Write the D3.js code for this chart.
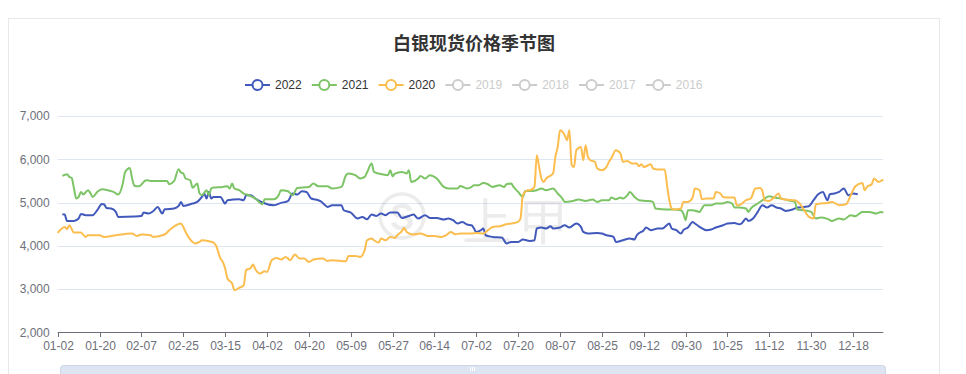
<!DOCTYPE html>
<html>
<head>
<meta charset="utf-8">
<script src="https://cdn.jsdelivr.net/npm/d3@7"></script>
<style>
  body { margin: 0; background: #fff; }
  text { font-family: "Liberation Sans", Arial, "Noto Sans CJK SC", sans-serif; }
</style>
</head>
<body>
<script>
// category axis: trading days of the year, labelled every 18th day
var dayCount = 356;
var tickLabels = ["01-02", "01-20", "02-07", "02-25", "03-15", "04-02", "04-20", "05-09", "05-27", "06-14",
    "07-02", "07-20", "08-07", "08-25", "09-12", "09-30", "10-25", "11-12", "11-30", "12-18"];
var tickStep = 18;
var yTicks = [2000, 3000, 4000, 5000, 6000, 7000];

var years = ["2022", "2021", "2020", "2019", "2018", "2017", "2016"];
var colors = ["#4159bb", "#7cc466", "#fbbd4e"];

// [day index, price]
var s2022 = [[2, 4730], [3, 4723], [4, 4575], [7, 4575], [9, 4630], [10, 4737], [12, 4707], [15, 4707], [17, 4822],
    [19, 4968], [20, 4954], [21, 4875], [23, 4861], [25, 4783], [26, 4667], [33, 4676], [36, 4690], [37, 4769],
    [39, 4746], [41, 4799], [43, 4898], [45, 4746], [46, 4845], [50, 4861], [52, 4921], [53, 5014], [54, 4921],
    [58, 4977], [60, 5014], [62, 5130], [63, 5208], [64, 5092], [65, 5245], [66, 5092], [67, 5130], [70, 5130],
    [72, 4977], [73, 5053], [78, 5076], [80, 5053], [81, 5169], [83, 5169], [85, 5092], [88, 5000], [93, 4938],
    [96, 4991], [99, 5030], [101, 5208], [103, 5185], [105, 5261], [107, 5245], [109, 5092], [111, 5069],
    [113, 5030], [115, 4938], [116, 4898], [118, 4938], [122, 4938], [123, 4822], [126, 4769], [129, 4630],
    [131, 4667], [133, 4614], [135, 4723], [137, 4690], [139, 4746], [141, 4707], [143, 4769], [146, 4769],
    [148, 4644], [151, 4690], [153, 4723], [155, 4630], [158, 4707], [160, 4644], [163, 4644], [166, 4607],
    [168, 4630], [170, 4591], [172, 4514], [174, 4552], [176, 4491], [178, 4475], [179, 4399], [180, 4320],
    [182, 4360], [183, 4399], [184, 4244], [187, 4205], [191, 4191], [193, 4052], [195, 4089], [198, 4089],
    [200, 4145], [203, 4112], [205, 4128], [206, 4399], [208, 4422], [210, 4399], [212, 4452], [213, 4399],
    [216, 4422], [218, 4475], [220, 4422], [223, 4514], [225, 4436], [226, 4320], [228, 4283], [232, 4298],
    [234, 4283], [236, 4244], [239, 4205], [240, 4089], [243, 4128], [246, 4168], [248, 4145], [249, 4244],
    [252, 4360], [253, 4422], [255, 4360], [258, 4399], [260, 4399], [263, 4514], [264, 4399], [266, 4360],
    [268, 4283], [269, 4360], [271, 4422], [273, 4552], [274, 4514], [276, 4436], [279, 4360], [281, 4376],
    [283, 4422], [286, 4475], [288, 4514], [291, 4529], [293, 4498], [294, 4514], [296, 4630], [297, 4575],
    [299, 4630], [301, 4783], [303, 4938], [305, 4884], [307, 4938], [309, 4884], [311, 4861], [313, 4806],
    [316, 4838], [318, 4884], [321, 4898], [323, 4914], [325, 5053], [327, 5192], [329, 5245], [331, 5053],
    [332, 5192], [334, 5208], [336, 5245], [338, 5323], [340, 5169], [342, 5208], [344, 5192]];

var s2021 = [[2, 5615], [4, 5654], [5, 5592], [6, 5570], [7, 5324], [8, 5092], [9, 5130], [10, 5245], [11, 5185],
    [13, 5284], [14, 5222], [15, 5130], [17, 5245], [19, 5307], [22, 5277], [24, 5245], [26, 5185], [28, 5439],
    [29, 5707], [31, 5800], [32, 5555], [33, 5384], [35, 5377], [38, 5515], [40, 5500], [47, 5500], [48, 5423],
    [50, 5492], [52, 5770], [53, 5693], [54, 5670], [55, 5555], [57, 5515], [58, 5340], [60, 5439], [61, 5208],
    [62, 5169], [64, 5284], [65, 5169], [66, 5323], [67, 5347], [71, 5361], [73, 5377], [74, 5323], [75, 5439],
    [76, 5323], [78, 5284], [80, 5208], [82, 5169], [85, 5092], [88, 4961], [89, 5076], [93, 5076], [95, 5169],
    [96, 5284], [99, 5261], [101, 5169], [103, 5338], [108, 5361], [110, 5439], [112, 5377], [116, 5377],
    [118, 5323], [122, 5361], [124, 5631], [125, 5670], [128, 5631], [130, 5555], [132, 5592], [133, 5693],
    [135, 5901], [136, 5707], [138, 5670], [140, 5647], [142, 5631], [143, 5747], [144, 5608], [145, 5670],
    [148, 5707], [150, 5670], [151, 5747], [152, 5476], [155, 5555], [156, 5615], [158, 5555], [160, 5631],
    [163, 5555], [166, 5361], [168, 5323], [172, 5323], [173, 5384], [176, 5323], [178, 5361], [179, 5400],
    [181, 5400], [183, 5454], [185, 5423], [187, 5361], [190, 5400], [192, 5361], [193, 5423], [195, 5439],
    [196, 5361], [198, 5245], [200, 5130], [201, 5268], [204, 5268], [206, 5284], [208, 5323], [210, 5284],
    [213, 5323], [215, 5208], [217, 5092], [218, 5014], [221, 5030], [224, 5069], [227, 5037], [230, 5069],
    [232, 5014], [234, 5053], [237, 5053], [238, 5115], [240, 5076], [242, 5115], [243, 5092], [245, 5169],
    [246, 5245], [248, 5130], [250, 5053], [253, 5037], [256, 5014], [257, 4861], [262, 4838], [265, 4838],
    [268, 4822], [269, 4746], [270, 4591], [271, 4822], [273, 4822], [276, 4783], [277, 4861], [278, 4938],
    [281, 4938], [283, 4977], [286, 4977], [288, 5014], [290, 4977], [291, 4884], [293, 4884], [296, 4861],
    [297, 4783], [298, 4861], [301, 4977], [303, 5053], [306, 5146], [308, 5115], [311, 5092], [314, 5053],
    [317, 5014], [318, 4838], [321, 4822], [324, 4783], [326, 4630], [328, 4653], [331, 4621], [333, 4575],
    [336, 4630], [338, 4607], [341, 4707], [343, 4683], [346, 4783], [349, 4783], [352, 4746], [354, 4783],
    [355, 4770]];

var s2020 = [[0, 4300], [1, 4360], [3, 4436], [4, 4383], [5, 4475], [7, 4306], [10, 4306], [12, 4205], [13, 4244],
    [18, 4244], [20, 4205], [25, 4244], [32, 4283], [34, 4228], [36, 4260], [40, 4244], [41, 4205], [46, 4260],
    [48, 4360], [53, 4514], [54, 4436], [55, 4320], [58, 4089], [59, 4052], [61, 4089], [62, 4128], [65, 4105],
    [67, 4075], [68, 4013], [70, 3706], [71, 3627], [72, 3474], [73, 3243], [75, 3128], [76, 2973], [78, 3026],
    [80, 3088], [81, 3435], [83, 3488], [84, 3567], [85, 3458], [87, 3359], [89, 3412], [90, 3396], [92, 3667],
    [94, 3720], [96, 3683], [98, 3743], [100, 3667], [102, 3798], [104, 3706], [106, 3706], [108, 3627],
    [110, 3683], [114, 3706], [116, 3650], [118, 3667], [124, 3643], [125, 3766], [128, 3766], [130, 3743],
    [132, 3897], [133, 4128], [135, 4168], [136, 4128], [138, 4075], [139, 4168], [141, 4128], [143, 4205],
    [145, 4182], [146, 4244], [148, 4337], [149, 4413], [150, 4320], [153, 4260], [156, 4283], [159, 4228],
    [162, 4228], [165, 4205], [167, 4244], [169, 4320], [171, 4267], [173, 4283], [178, 4283], [180, 4298],
    [183, 4283], [185, 4360], [187, 4436], [190, 4452], [193, 4498], [195, 4514], [198, 4552], [199, 4630],
    [200, 5169], [201, 5245], [202, 5284], [203, 5284], [205, 5361], [206, 6093], [207, 5823], [208, 5555],
    [209, 5476], [210, 5555], [213, 5670], [214, 6054], [215, 6285], [216, 6671], [218, 6556], [219, 6440],
    [220, 6671], [221, 5870], [222, 5823], [223, 6209], [225, 6285], [226, 5978], [227, 6325], [228, 6054],
    [229, 5978], [231, 5939], [232, 5786], [234, 5747], [236, 5823], [237, 5939], [238, 6017], [240, 6209],
    [242, 6133], [243, 5939], [245, 5962], [247, 5901], [249, 5901], [250, 5839], [251, 5886], [252, 5823],
    [253, 5839], [255, 5886], [256, 5786], [258, 5763], [261, 5763], [262, 5400], [263, 5053], [264, 4861],
    [265, 4838], [268, 4861], [269, 5014], [271, 5014], [273, 5115], [274, 5323], [276, 5284], [277, 5076],
    [279, 5092], [282, 5092], [283, 5245], [285, 5208], [286, 5130], [289, 5115], [291, 5115], [292, 4938],
    [293, 4938], [296, 5053], [298, 5092], [300, 5323], [302, 5338], [303, 5268], [304, 5053], [306, 5037],
    [308, 5115], [310, 5208], [311, 5092], [313, 5069], [317, 5053], [319, 4977], [321, 4822], [323, 4667],
    [325, 4630], [326, 4961], [328, 4977], [331, 4991], [333, 5014], [336, 4938], [339, 4961], [341, 5169],
    [343, 5377], [346, 5454], [347, 5284], [348, 5361], [350, 5423], [351, 5555], [353, 5476], [354, 5500],
    [355, 5531]];

var series = [s2022, s2021, s2020];

var width = 966, height = 374;
var margin = { left: 57.7, right: 883.3, top: 116, bottom: 332.3 };

var svg = d3.select("body").append("svg")
    .attr("width", width)
    .attr("height", height);

// card
svg.append("rect")
    .attr("x", 8.5).attr("y", 18.5)
    .attr("width", 931).attr("height", 400)
    .attr("fill", "#fff")
    .attr("stroke", "#e8e8e8");

svg.append("text")
    .attr("x", 474).attr("y", 50)
    .attr("text-anchor", "middle")
    .attr("font-size", 18)
    .attr("font-weight", "bold")
    .attr("fill", "#333")
    .style("font-family", "'Noto Sans CJK SC', sans-serif")
    .text("白银现货价格季节图");

// legend
var legend = svg.append("g").attr("transform", "translate(245,85)");
var item = legend.selectAll("g")
    .data(years)
    .enter().append("g")
    .attr("transform", function (d, i) { return "translate(" + (i * 66.8) + ",0)"; });
item.append("line")
    .attr("x1", 0).attr("x2", 25)
    .attr("stroke", function (d, i) { return i < 3 ? colors[i] : "#ccc"; })
    .attr("stroke-width", 2);
item.append("circle")
    .attr("cx", 12.5).attr("r", 5)
    .attr("fill", "#fff")
    .attr("stroke", function (d, i) { return i < 3 ? colors[i] : "#ccc"; })
    .attr("stroke-width", 2);
item.append("text")
    .attr("x", 30).attr("dy", "0.36em")
    .attr("font-size", 12)
    .attr("fill", function (d, i) { return i < 3 ? "#333" : "#ccc"; })
    .text(function (d) { return d; });

var x = d3.scaleLinear().domain([0, dayCount - 1]).range([margin.left, margin.right]);
var y = d3.scaleLinear().domain([2000, 7000]).range([margin.bottom, margin.top]);

// grid
svg.append("g")
    .selectAll("line")
    .data(yTicks.slice(1))
    .enter().append("line")
    .attr("x1", margin.left).attr("x2", margin.right)
    .attr("y1", function (d) { return Math.round(y(d)) + 0.5; })
    .attr("y2", function (d) { return Math.round(y(d)) + 0.5; })
    .attr("stroke", "#e0e6f1");

svg.append("g")
    .selectAll("text")
    .data(yTicks)
    .enter().append("text")
    .attr("x", margin.left - 8)
    .attr("y", function (d) { return y(d); })
    .attr("dy", "0.36em")
    .attr("text-anchor", "end")
    .attr("font-size", 12)
    .attr("fill", "#6e7079")
    .text(d3.format(","));

// watermark
var wm = svg.append("g").attr("opacity", 0.07);
wm.append("circle").attr("cx", 402).attr("cy", 216).attr("r", 22)
    .attr("fill", "none").attr("stroke", "#000").attr("stroke-width", 3.5);
wm.append("text").attr("x", 402).attr("y", 230).attr("text-anchor", "middle")
    .attr("font-size", 36).attr("font-weight", "bold").attr("fill", "#000").text("S");
wm.append("text").attr("x", 462).attr("y", 240)
    .attr("font-size", 50).attr("letter-spacing", 6).attr("fill", "#000")
    .style("font-family", "'Noto Sans CJK SC', sans-serif")
    .text("上甲");

// x axis
var xAxis = svg.append("g").attr("transform", "translate(0," + Math.round(margin.bottom) + ")");
xAxis.append("line")
    .attr("x1", margin.left).attr("x2", margin.right)
    .attr("y1", 0.5).attr("y2", 0.5)
    .attr("stroke", "#6e7079");
var tk = xAxis.selectAll("g.tick")
    .data(tickLabels)
    .enter().append("g")
    .attr("class", "tick")
    .attr("transform", function (d, i) { return "translate(" + (Math.round(x(i * tickStep)) + 0.5) + ",0)"; });
tk.append("line").attr("y1", 0).attr("y2", 5).attr("stroke", "#6e7079");
tk.append("text")
    .attr("y", 14).attr("dy", "0.36em")
    .attr("text-anchor", "middle")
    .attr("font-size", 12)
    .attr("fill", "#6e7079")
    .text(function (d) { return d; });

// lines
var line = d3.line()
    .x(function (d) { return x(d[0]); })
    .y(function (d) { return y(d[1]); })
    .curve(d3.curveMonotoneX);

svg.append("g")
    .selectAll("path")
    .data(series)
    .enter().append("path")
    .attr("d", line)
    .attr("fill", "none")
    .attr("stroke", function (d, i) { return colors[i]; })
    .attr("stroke-width", 2)
    .attr("stroke-linejoin", "round");

// data zoom slider
var slider = svg.append("g");
slider.append("rect")
    .attr("x", 60.5).attr("y", 365.5)
    .attr("width", 825).attr("height", 30)
    .attr("rx", 3)
    .attr("fill", "#dde4f2")
    .attr("stroke", "#cdd6e8");
slider.selectAll("line.grip")
    .data([-2, 0, 2])
    .enter().append("line")
    .attr("x1", function (d) { return 472.5 + d; })
    .attr("x2", function (d) { return 472.5 + d; })
    .attr("y1", 367).attr("y2", 371)
    .attr("stroke", "#fff");
</script>
</body>
</html>
